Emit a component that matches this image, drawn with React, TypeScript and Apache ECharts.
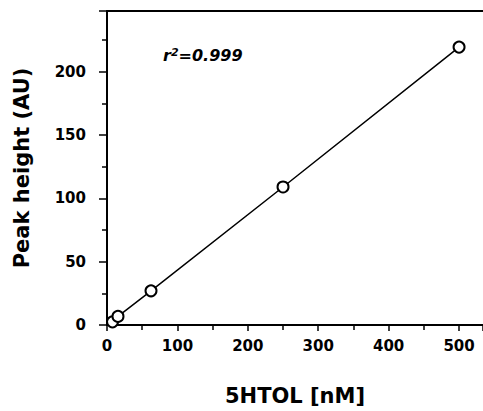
import React, { useEffect, useRef } from "react";
import * as echarts from "echarts";

const concentrations = [7.8, 15.6, 62.5, 250, 500];
const peakHeights = [2.5, 6.8, 27, 109, 219.5];
const xTicks = [0, 100, 200, 300, 400, 500];
const yTicks = [0, 50, 100, 150, 200];
const rSquaredLabel = "0.999";

const FONT = "DejaVu Sans";

export default function App() {
  const ref = useRef<HTMLDivElement>(null);
  useEffect(() => {
    if (!ref.current) return;
    const chart = echarts.init(ref.current, undefined, { renderer: "svg" });
    const data = concentrations.map((c, i) => [c, peakHeights[i]]);
    const axisLine = { lineStyle: { color: "#000", width: 2 } };
    chart.setOption({
      animation: false,
      backgroundColor: "#fff",
      grid: {
        left: 107,
        top: 11,
        right: 0,
        bottom: 85,
        show: false,
        containLabel: false,
      },
      xAxis: [
        {
          type: "value",
          min: 0,
          max: 534,
          interval: 100,
          name: "5HTOL [nM]",
          nameLocation: "middle",
          nameGap: 60,
          nameTextStyle: { fontFamily: FONT, fontWeight: "bold", fontSize: 21, color: "#000" },
          axisLine: { onZero: false, ...axisLine },
          axisTick: { show: true, length: 6, lineStyle: { color: "#000", width: 1.5 } },
          minorTick: { show: true, splitNumber: 2, length: 5, lineStyle: { color: "#000", width: 1.5 } },
          splitLine: { show: false },
          axisLabel: {
            margin: 13,
            fontFamily: FONT,
            fontWeight: "bold",
            fontSize: 15,
            color: "#000",
            showMaxLabel: false,
            formatter: (v: number) => (xTicks.includes(v) ? String(v) : ""),
          },
        },
        {
          type: "value",
          position: "top",
          min: 0,
          max: 534,
          axisLine: { show: true, onZero: false, ...axisLine },
          axisTick: { show: false },
          axisLabel: { show: false },
          splitLine: { show: false },
        },
      ],
      yAxis: {
        type: "value",
        min: 0,
        max: 248,
        interval: 50,
        name: "Peak height (AU)",
        nameLocation: "middle",
        nameGap: 75,
        nameTextStyle: { fontFamily: FONT, fontWeight: "bold", fontSize: 21, color: "#000" },
        axisLine: { onZero: false, ...axisLine },
        axisTick: { show: true, length: 8, lineStyle: { color: "#000", width: 1.5 } },
        minorTick: { show: true, splitNumber: 2, length: 5, lineStyle: { color: "#000", width: 1.5 } },
        splitLine: { show: false },
        axisLabel: {
          margin: 21,
          fontFamily: FONT,
          fontWeight: "bold",
          fontSize: 15,
          color: "#000",
          formatter: (v: number) => (yTicks.includes(v) ? String(v) : ""),
        },
      },
      graphic: [
        {
          type: "text",
          left: 163,
          top: 47,
          style: {
            text: "{r|r}{sup|2}{r|=" + rSquaredLabel + "}",
            rich: {
              r: { fontFamily: FONT, fontStyle: "italic", fontWeight: "bold", fontSize: 16, fill: "#000" },
              sup: { fontFamily: FONT, fontStyle: "italic", fontWeight: "bold", fontSize: 11, fill: "#000", verticalAlign: "top", padding: [0, 0, 6, 0] },
            },
          },
        },
      ],
      series: [
        {
          type: "line",
          data,
          symbol: "emptyCircle",
          symbolSize: 11,
          showSymbol: true,
          lineStyle: { color: "#000", width: 1.5 },
          itemStyle: { color: "#000", borderColor: "#000", borderWidth: 2 },
        },
      ],
    });
    return () => chart.dispose();
  }, []);
  return <div ref={ref} style={{ width: 483, height: 411, position: "absolute", left: 0, top: 0 }} />;
}
